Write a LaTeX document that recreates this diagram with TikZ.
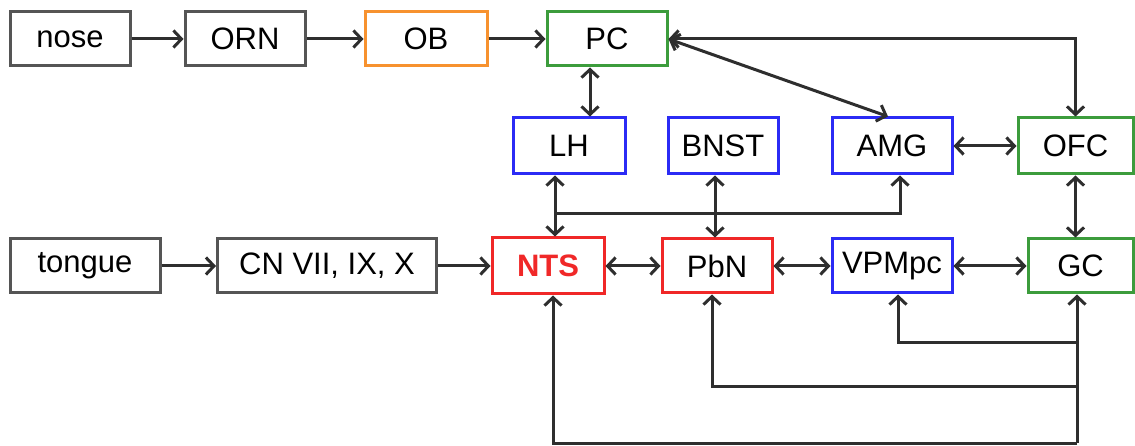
\documentclass[tikz,border=0pt]{standalone}
\usepackage{fontspec}
\setmainfont{Liberation Sans}
\usetikzlibrary{arrows.meta}
\definecolor{boxgray}{HTML}{555555}
\definecolor{boxorange}{HTML}{F7922F}
\definecolor{boxgreen}{HTML}{3C9C3C}
\definecolor{boxblue}{HTML}{2B2BF5}
\definecolor{boxred}{HTML}{F02828}
\definecolor{linkgray}{HTML}{2E2E2E}

\begin{document}
\begin{tikzpicture}[x=1pt, y=-1pt,
    >={Straight Barb[length=8pt, width=17pt]},
    every node/.style={font=\fontsize{31}{36}\selectfont},
    box/.style={draw=boxgray, line width=3pt, inner sep=0pt, minimum height=54pt},
    link/.style={draw=linkgray, line width=3pt}]
    \useasboundingbox (0,0) rectangle (1135,446);

    % smell row
    \node[box, minimum width=120pt] (nose) at (70,39) {nose};
    \node[box, minimum width=120pt] (orn) at (245,39) {ORN};
    \node[box, draw=boxorange, minimum width=122pt] (ob) at (426,39) {OB};
    \node[box, draw=boxgreen, minimum width=120pt] (pc) at (607,39) {PC};

    % middle row
    \node[box, draw=boxblue, minimum width=112pt, minimum height=56pt] (lh) at (569,146) {LH};
    \node[box, draw=boxblue, minimum width=110pt, minimum height=56pt] (bnst) at (723,146) {BNST};
    \node[box, draw=boxblue, minimum width=120pt, minimum height=56pt] (amg) at (892,146) {AMG};
    \node[box, draw=boxgreen, minimum width=115pt, minimum height=56pt] (ofc) at (1075.5,146) {OFC};

    % taste row
    \node[box, minimum width=150pt] (tongue) at (85,266) {tongue};
    \node[box, minimum width=219pt] (cn) at (327,266) {CN VII, IX, X};
    \node[box, draw=boxred, minimum width=112pt, minimum height=56pt, text=boxred, font=\fontsize{31}{36}\selectfont\bfseries] (nts) at (548,266) {NTS};
    \node[box, draw=boxred, minimum width=110pt] (pbn) at (717,266) {PbN};
    \node[box, draw=boxblue, minimum width=120pt] (vpm) at (892,266) {VPMpc};
    \node[box, draw=boxgreen, minimum width=105pt] (gc) at (1080.5,266) {GC};

    \draw[link, ->] (nose) -- (orn);
    \draw[link, ->] (orn) -- (ob);
    \draw[link, ->] (ob) -- (pc);
    \draw[link, <->] (pc.east) -| (ofc.north);
    \draw[link, <->] (pc.east) -- ([xshift=-4pt]amg.north);
    \draw[link, <->] ([xshift=-17pt]pc.south) -- ([xshift=-17pt]pc.south |- lh.north);
    \draw[link, <->] (amg) -- (ofc);
    \draw[link, <->] (ofc.south) -- (ofc.south |- gc.north);

    \draw[link, ->] (tongue) -- (cn);
    \draw[link, ->] (cn) -- (nts);
    \draw[link, <->] (nts) -- (pbn);
    \draw[link, <->] (pbn) -- (vpm);
    \draw[link, <->] (vpm) -- (gc);

    % hypothalamus and amygdala links
    \draw[link, <->] ([xshift=-14pt]lh.south) -- ([xshift=-14pt]lh.south |- nts.north);
    \coordinate (jn) at (555,214);
    \draw[link, ->] (jn) -| ([xshift=8pt]amg.south);
    \draw[link, <->] ([xshift=-8pt]bnst.south) -- ([xshift=-8pt]bnst.south |- pbn.north);

    % feedback from GC
    \coordinate (gtop) at (1077,342);
    \coordinate (gmid) at (1077,386);
    \coordinate (gbot) at (1077,443);
    \draw[link, ->] (gbot) -- (gbot |- gc.south);
    \draw[link, ->] (gtop) -| ([xshift=6pt]vpm.south);
    \draw[link, ->] (gmid) -| ([xshift=-5pt]pbn.south);
    \draw[link, ->] (gbot) -| ([xshift=5pt]nts.south);
\end{tikzpicture}
\end{document}
